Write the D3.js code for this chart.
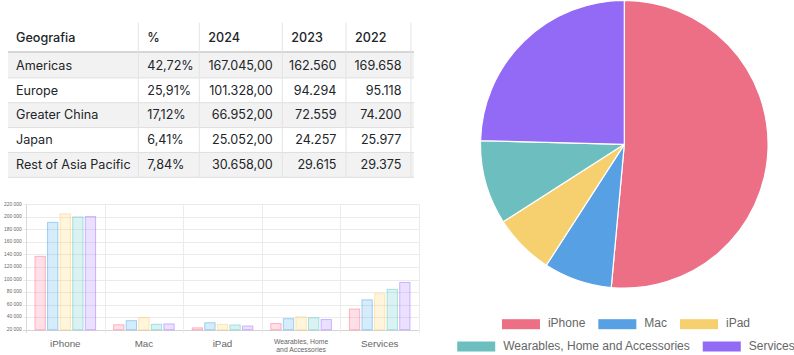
<!DOCTYPE html>
<html><head><meta charset="utf-8">
<script src="https://cdn.jsdelivr.net/npm/d3@7"></script>
<style>html,body{margin:0;padding:0;background:#fff;} svg{display:block;}</style>
</head><body>
<svg id="c" width="794" height="355"></svg>
<script>
// ---- Table data ----
const tableHeaders = ["Geografia", "%", "2024", "2023", "2022"];
const geographies = ["Americas", "Europe", "Greater China", "Japan", "Rest of Asia Pacific"];
const sharePct = [42.72, 25.91, 17.12, 6.41, 7.84];
const rev2024 = [167045, 101328, 66952, 25052, 30658];
const rev2023 = [162560, 94294, 72559, 24257, 29615];
const rev2022 = [169658, 95118, 74200, 25977, 29375];

// ---- Bar chart data ----
const products = ["iPhone", "Mac", "iPad", "Wearables, Home and Accessories", "Services"];
const years = ["2020", "2021", "2022", "2023", "2024"];
const sales2020 = [137781, 28622, 23724, 30620, 53768];
const sales2021 = [191973, 35190, 31862, 38367, 68425];
const sales2022 = [205489, 40177, 29292, 41241, 78129];
const sales2023 = [200583, 29357, 28300, 39845, 85200];
const sales2024 = [201183, 29984, 26694, 37005, 96169];
const yTicks = [20000, 40000, 60000, 80000, 100000, 120000, 140000, 160000, 180000, 200000, 220000];

// ---- Pie data (2024) ----
const pieValues = sales2024;

const barFill = ["rgba(255,99,132,0.2)", "rgba(54,162,235,0.2)", "rgba(255,205,86,0.2)", "rgba(75,192,192,0.2)", "rgba(153,102,255,0.2)"];
const barStroke = ["rgba(255,99,132,0.45)", "rgba(54,162,235,0.45)", "rgba(255,205,86,0.45)", "rgba(75,192,192,0.45)", "rgba(153,102,255,0.45)"];
const pieColors = ["#EC6F86", "#58A0E4", "#F6CF6F", "#6CBEBF", "#926AF5"];

const svg = d3.select("#c");
const loc = d3.formatLocale({decimal: ",", thousands: ".", grouping: [3], currency: ["", ""]});
const f2 = loc.format(",.2f"), f0 = loc.format(",d"), fp = loc.format(".2f");
const sp = d3.formatLocale({decimal: ".", thousands: " ", grouping: [3], currency: ["", ""]}).format(",d");

// ================= TABLE =================
(function(){
  const g = svg.append("g");
  const colEdges = [8, 138.3, 199.3, 282.3, 346, 411];
  const clipRight = 414;
  const headTop = 22.7, headBot = 53, rowH = 24.86;
  const font = "Inter, 'Noto Sans', sans-serif";
  const fs = 12.6;
  const rows = geographies.map((gname, i) => [gname, fp(sharePct[i]) + "%", f2(rev2024[i]), f0(rev2023[i]), f0(rev2022[i])]);
  const rowY = d3.scaleLinear().domain([0, 1]).range([headBot, headBot + rowH]);
  // stripes
  g.selectAll("rect.stripe").data(rows).join("rect")
    .attr("x", colEdges[0]).attr("width", clipRight - colEdges[0])
    .attr("y", (d, i) => rowY(i)).attr("height", rowH)
    .attr("fill", (d, i) => i % 2 === 0 ? "#f2f2f2" : "#ffffff");
  // row borders
  g.selectAll("line.rb").data(d3.range(1, rows.length + 1)).join("line")
    .attr("x1", colEdges[0]).attr("x2", clipRight)
    .attr("y1", i => rowY(i)).attr("y2", i => rowY(i))
    .attr("stroke", "#dedede").attr("stroke-width", 1);
  // header bottom
  g.append("line").attr("x1", colEdges[0]).attr("x2", clipRight)
    .attr("y1", headBot - 1).attr("y2", headBot - 1).attr("stroke", "#d6d6d6").attr("stroke-width", 2);
  // column separators
  g.selectAll("line.cs").data(colEdges.slice(1)).join("line")
    .attr("x1", d => d).attr("x2", d => d)
    .attr("y1", headTop).attr("y2", rowY(rows.length))
    .attr("stroke", "#e3e3e3").attr("stroke-width", 1);
  // header texts
  g.selectAll("text.h").data(tableHeaders).join("text")
    .attr("x", (d, i) => colEdges[i] + (i === 0 ? 8 : 9))
    .attr("y", (headTop + headBot) / 2 + 0.8)
    .attr("dominant-baseline", "middle")
    .attr("font-family", font).attr("font-size", fs).attr("font-weight", 500)
    .attr("fill", "#212529").text(d => d);
  // cells
  rows.forEach((r, i) => {
    r.forEach((v, j) => {
      const right = j >= 2;
      g.append("text")
        .attr("x", right ? colEdges[j + 1] - 9.5 : colEdges[j] + (j === 0 ? 8 : 9))
        .attr("y", rowY(i) + rowH / 2 + 0.8)
        .attr("dominant-baseline", "middle")
        .attr("text-anchor", right ? "end" : "start")
        .attr("font-family", font).attr("font-size", fs)
        .attr("fill", "#212529").text(v);
    });
  });
})();

// ================= BAR CHART =================
(function(){
  const g = svg.append("g");
  const series = [sales2020, sales2021, sales2022, sales2023, sales2024];
  const x = d3.scaleBand().domain(products).range([26, 419]).paddingInner(0).paddingOuter(0);
  const inner = d3.scaleBand().domain(years).range([x.bandwidth() * 0.1, x.bandwidth() * 0.9]).paddingInner(0.1).paddingOuter(0.05);
  const y = d3.scaleLinear().domain([20000, 220000]).range([329.7, 204.3]);
  const font = "'Liberation Sans', Arial, sans-serif";
  // horizontal grid
  g.selectAll("line.hg").data(yTicks).join("line")
    .attr("x1", 23).attr("x2", 419)
    .attr("y1", d => Math.round(y(d)) + 0.5).attr("y2", d => Math.round(y(d)) + 0.5)
    .attr("stroke", d => d === 20000 ? "#d4d4d4" : "#ebebeb").attr("stroke-width", 1);
  // vertical grid
  const edges = products.map(p => x(p)).concat([419]);
  g.selectAll("line.vg").data(edges).join("line")
    .attr("x1", d => Math.round(d) + 0.5).attr("x2", d => Math.round(d) + 0.5)
    .attr("y1", y(220000)).attr("y2", 333)
    .attr("stroke", (d, i) => i === 0 ? "#d9d9d9" : "#ebebeb").attr("stroke-width", 1);
  // y labels
  g.selectAll("text.yl").data(yTicks).join("text")
    .attr("x", 21.7).attr("y", d => y(d))
    .attr("text-anchor", "end").attr("dominant-baseline", "middle")
    .attr("font-family", font).attr("font-size", 4.9).attr("fill", "#666")
    .text(d => sp(d));
  // bars
  series.forEach((vals, si) => {
    g.selectAll("rect.s" + si).data(products).join("rect")
      .attr("x", (p) => x(p) + inner(years[si]) + 0.5)
      .attr("width", inner.bandwidth() - 1)
      .attr("y", (p, k) => y(vals[k]) + 0.5)
      .attr("height", (p, k) => Math.max(0, y(20000) - y(vals[k]) - 0.5))
      .attr("fill", barFill[si]).attr("stroke", barStroke[si]).attr("stroke-width", 1);
  });
  // x labels
  products.forEach(p => {
    const cx = x(p) + x.bandwidth() / 2;
    const words = p.split(" ");
    if (p.length > 15) {
      const half = Math.ceil(words.length / 2);
      const lines = [words.slice(0, half).join(" "), words.slice(half).join(" ")];
      g.selectAll(null).data(lines).join("text")
        .attr("x", cx).attr("y", (d, i) => 343.5 + i * 8.3)
        .attr("text-anchor", "middle")
        .attr("font-family", font).attr("font-size", 6.8).attr("fill", "#666").text(d => d);
    } else {
      g.append("text").attr("x", cx).attr("y", 346.5)
        .attr("text-anchor", "middle")
        .attr("font-family", font).attr("font-size", 9.8).attr("fill", "#666").text(p);
    }
  });
})();

// ================= PIE =================
(function(){
  const g = svg.append("g").attr("transform", "translate(624.3,144.3)");
  const pie = d3.pie().sort(null).value(d => d)(pieValues);
  const arc = d3.arc().innerRadius(0).outerRadius(143.8);
  g.selectAll("path").data(pie).join("path")
    .attr("d", arc).attr("fill", (d, i) => pieColors[i])
    .attr("stroke", "#fff").attr("stroke-width", 1.2).attr("stroke-linejoin", "round");

  // legend
  const font = "'Liberation Sans', Arial, sans-serif";
  const lg = svg.append("g");
  const rowsDef = [[0, 1, 2], [3, 4]];
  const rowYc = [324.2, 346.5];
  const boxW = 38, boxH = 10, gapBT = 8, gapItem = 13, cx = 626;
  rowsDef.forEach((idxs, ri) => {
    const tmp = lg.append("g");
    const widths = idxs.map(i => {
      const t = tmp.append("text").attr("font-family", font).attr("font-size", 12).text(products[i]);
      const w = t.node().getComputedTextLength(); t.remove(); return w;
    });
    tmp.remove();
    const total = d3.sum(widths) + idxs.length * (boxW + gapBT) + (idxs.length - 1) * gapItem;
    let xx = cx - total / 2;
    idxs.forEach((i, k) => {
      lg.append("rect").attr("x", xx).attr("y", rowYc[ri] - boxH / 2)
        .attr("width", boxW).attr("height", boxH).attr("fill", pieColors[i]);
      lg.append("text").attr("x", xx + boxW + gapBT).attr("y", rowYc[ri])
        .attr("dominant-baseline", "middle")
        .attr("font-family", font).attr("font-size", 12).attr("fill", "#666").text(products[i]);
      xx += boxW + gapBT + widths[k] + gapItem;
    });
  });
})();
</script>
</body></html>
